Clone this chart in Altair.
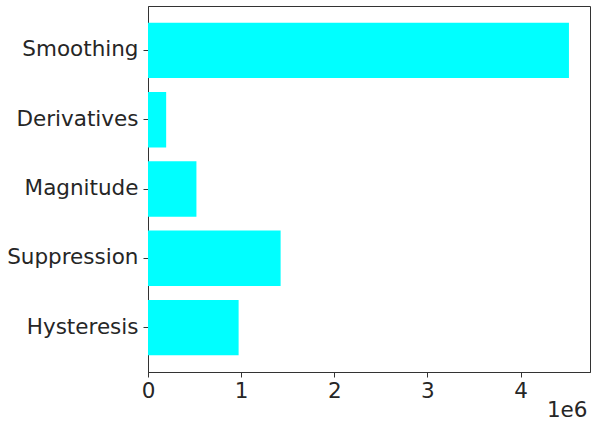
import altair as alt
import pandas as pd

categories = ["Smoothing", "Derivatives", "Magnitude", "Suppression", "Hysteresis"]
values = [4.52e6, 0.195e6, 0.52e6, 1.424e6, 0.973e6]
x_ticks = [0, 1e6, 2e6, 3e6, 4e6]

df = pd.DataFrame({"step": categories, "time": values})

FONT = "DejaVu Sans"
TXT = "#262626"
FS = 21.5

chart = alt.Chart(df).mark_bar(color="#00FFFF").encode(
    x=alt.X(
        "time:Q",
        scale=alt.Scale(domain=[0, max(values) * 1.05], nice=False, zero=True),
        axis=alt.Axis(
            values=x_ticks,
            labelExpr="format(datum.value / 1e6, 'd')",
            grid=False,
            title="1e6",
            titleAnchor="end",
            titleAlign="right",
            titleBaseline="bottom",
            titleX=439,
            titleY=49,
            titleFont=FONT,
            titleFontSize=FS,
            titleFontWeight="normal",
            titleColor=TXT,
            labelFont=FONT,
            labelFontSize=FS,
            labelColor=TXT,
            labelPadding=3,
            labelFlush=False,
            tickSize=5,
            tickColor="#333",
            domainColor="#333",
        ),
    ),
    y=alt.Y(
        "step:N",
        sort=categories,
        scale=alt.Scale(paddingInner=0.2, paddingOuter=0.24),
        axis=alt.Axis(
            title=None,
            grid=False,
            labelFont=FONT,
            labelFontSize=FS,
            labelColor=TXT,
            labelPadding=5,
            tickSize=5,
            tickColor="#333",
            domainColor="#333",
        ),
    ),
).properties(
    width=442,
    height=366,
    background="white",
    autosize=alt.AutoSizeParams(type="none"),
    padding={"left": 148, "top": 6, "right": 5, "bottom": 52},
).configure_view(
    stroke="#333",
    strokeWidth=1,
)

chart.save("out.html", embed_options={"renderer": "svg", "actions": False})
